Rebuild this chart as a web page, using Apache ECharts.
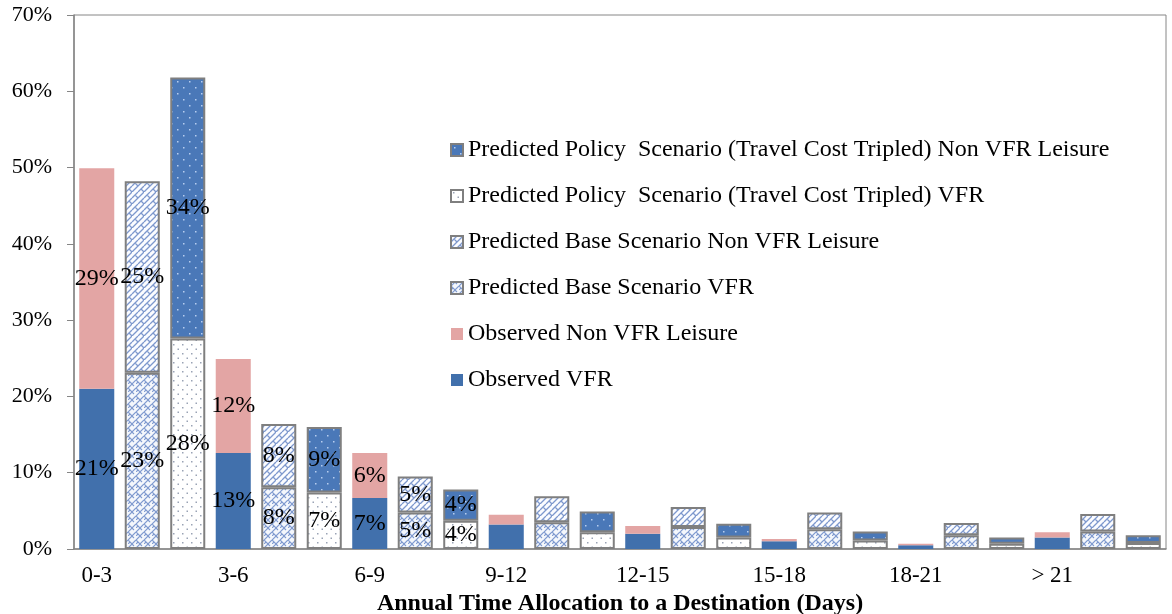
<!DOCTYPE html>
<html>
<head>
<meta charset="utf-8">
<script src="https://cdn.jsdelivr.net/npm/echarts@6/dist/echarts.min.js"></script>
<style>
  html, body { margin: 0; padding: 0; background: #fff; }
  #chart { width: 1172px; height: 614px; }
</style>
</head>
<body>
<div id="chart"></div>
<script>
// day ranges, each one has observed / base / policy bar
var groups = ['0-3', '3-6', '6-9', '9-12', '12-15', '15-18', '18-21', '> 21'];

// shares in percent, one value per group
var obsVfr      = [21.0, 12.6, 6.7, 3.2, 2.0, 1.0, 0.5, 1.5];
var obsNonVfr   = [28.9, 12.3, 5.9, 1.3, 1.0, 0.3, 0.2, 0.7];
var baseVfr     = [23.1, 8.1, 4.8, 3.5, 2.9, 2.6, 1.8, 2.3];
var baseNonVfr  = [25.1, 8.3, 4.7, 3.4, 2.6, 2.2, 1.6, 2.3];
var polVfr      = [27.6, 7.4, 3.7, 2.2, 1.5, 1.1, 0.7, 0.8];
var polNonVfr   = [34.2, 8.6, 4.1, 2.7, 1.8, 1.2, 0.8, 1.0];

var names = {
  obsVfr: 'Observed VFR',
  obsNon: 'Observed Non VFR Leisure',
  baseVfr: 'Predicted Base Scenario VFR',
  baseNon: 'Predicted Base Scenario Non VFR Leisure',
  polVfr: 'Predicted Policy  Scenario (Travel Cost Tripled) VFR',
  polNon: 'Predicted Policy  Scenario (Travel Cost Tripled) Non VFR Leisure'
};

// 3 slots per group
var slots = [];
groups.forEach(function (g) {
  slots.push(g + '#0', g + '#1', g + '#2');
});

function spread(values, pos) {
  var out = [];
  values.forEach(function (v) {
    for (var k = 0; k < 3; k++) out.push(k === pos ? v : '-');
  });
  return out;
}

function makeTile(w, h, draw) {
  var c = document.createElement('canvas');
  c.width = w; c.height = h;
  draw(c.getContext('2d'));
  return { image: c, repeat: 'repeat' };
}

var blueDark = '#4170ac';
// herringbone weave
var patBaseVfr = makeTile(8, 8, function (ctx) {
  ctx.fillStyle = '#f4f7fc'; ctx.fillRect(0, 0, 8, 8);
  ctx.strokeStyle = '#7f9acf'; ctx.lineWidth = 1.1;
  ctx.beginPath();
  ctx.moveTo(0, 4); ctx.lineTo(4, 0);
  ctx.moveTo(4, 8); ctx.lineTo(8, 4);
  ctx.moveTo(0, 4); ctx.lineTo(4, 8);
  ctx.moveTo(4, 0); ctx.lineTo(6, 2);
  ctx.moveTo(2, 6); ctx.lineTo(0, 8);
  ctx.stroke();
});
// diagonal bricks
var patBaseNon = makeTile(12, 12, function (ctx) {
  ctx.fillStyle = '#fbfcff'; ctx.fillRect(0, 0, 12, 12);
  ctx.strokeStyle = '#7d98cd'; ctx.lineWidth = 1.3;
  ctx.beginPath();
  ctx.moveTo(0, 12); ctx.lineTo(12, 0);
  ctx.moveTo(0, 6); ctx.lineTo(6, 0);
  ctx.moveTo(6, 12); ctx.lineTo(12, 6);
  ctx.moveTo(3, 3); ctx.lineTo(6, 6);
  ctx.moveTo(9, 9); ctx.lineTo(12, 12);
  ctx.stroke();
});
var patPolVfr = makeTile(9, 9, function (ctx) {
  ctx.fillStyle = '#fff'; ctx.fillRect(0, 0, 9, 9);
  ctx.fillStyle = '#9aa3b5';
  ctx.fillRect(2, 2, 1.5, 1.5);
  ctx.fillRect(6.5, 6.5, 1.5, 1.5);
});
var patPolNon = makeTile(12, 12, function (ctx) {
  ctx.fillStyle = '#4a78b8'; ctx.fillRect(0, 0, 12, 12);
  ctx.fillStyle = '#b7cdef';
  ctx.fillRect(3, 3, 1.5, 1.5);
  ctx.fillRect(9, 9, 1.5, 1.5);
});

var labelCfg = {
  show: true,
  position: 'inside',
  color: '#000',
  fontFamily: 'Liberation Serif',
  fontSize: 24,
  formatter: function (p) {
    return p.value >= 3.6 ? Math.round(p.value) + '%' : '';
  }
};

function bar(name, values, pos, color, bordered) {
  return {
    name: name,
    type: 'bar',
    stack: 'all',
    barCategoryGap: '23%',
    data: spread(values, pos),
    itemStyle: {
      color: color,
      borderColor: bordered ? '#7f7f7f' : color,
      borderWidth: bordered ? 2 : 0
    },
    label: labelCfg
  };
}

var chart = echarts.init(document.getElementById('chart'));
chart.setOption({
  animation: false,
  textStyle: { fontFamily: 'Liberation Serif' },
  grid: {
    left: 74, right: 6, top: 15, bottom: 65,
    outerBoundsMode: 'none',
    containLabel: false,
    show: true, borderColor: '#868686', borderWidth: 1
  },
  legend: {
    orient: 'vertical',
    left: 445, top: 133,
    icon: 'rect',
    itemWidth: 12, itemHeight: 12, itemGap: 22,
    textStyle: { fontFamily: 'Liberation Serif', fontSize: 24, color: '#000' },
    data: [names.polNon, names.polVfr, names.baseNon, names.baseVfr, names.obsNon, names.obsVfr]
  },
  xAxis: {
    type: 'category',
    data: slots,
    name: 'Annual Time Allocation to a Destination (Days)',
    nameLocation: 'middle',
    nameGap: 35,
    nameTextStyle: { fontFamily: 'Liberation Serif', fontSize: 24, fontWeight: 'bold', color: '#000' },
    axisLine: { lineStyle: { color: '#868686', width: 1.5 } },
    axisTick: { interval: 0, length: 5, lineStyle: { color: '#868686' } },
    axisLabel: {
      interval: 2,
      margin: 15,
      fontSize: 23,
      color: '#000',
      fontFamily: 'Liberation Serif',
      formatter: function (v) { return v.split('#')[0]; }
    }
  },
  yAxis: {
    type: 'value',
    min: 0, max: 70, interval: 10,
    splitLine: { show: false },
    axisLine: { show: true, lineStyle: { color: '#868686', width: 1.5 } },
    axisTick: { show: true, length: 7, lineStyle: { color: '#868686' } },
    axisLabel: {
      margin: 22,
      fontSize: 22,
      color: '#000',
      fontFamily: 'Liberation Serif',
      formatter: '{value}%'
    }
  },
  series: [
    bar(names.obsVfr, obsVfr, 0, blueDark, false),
    bar(names.obsNon, obsNonVfr, 0, '#e3a5a4', false),
    bar(names.baseVfr, baseVfr, 1, patBaseVfr, true),
    bar(names.baseNon, baseNonVfr, 1, patBaseNon, true),
    bar(names.polVfr, polVfr, 2, patPolVfr, true),
    bar(names.polNon, polNonVfr, 2, patPolNon, true)
  ]
});
</script>
</body>
</html>
